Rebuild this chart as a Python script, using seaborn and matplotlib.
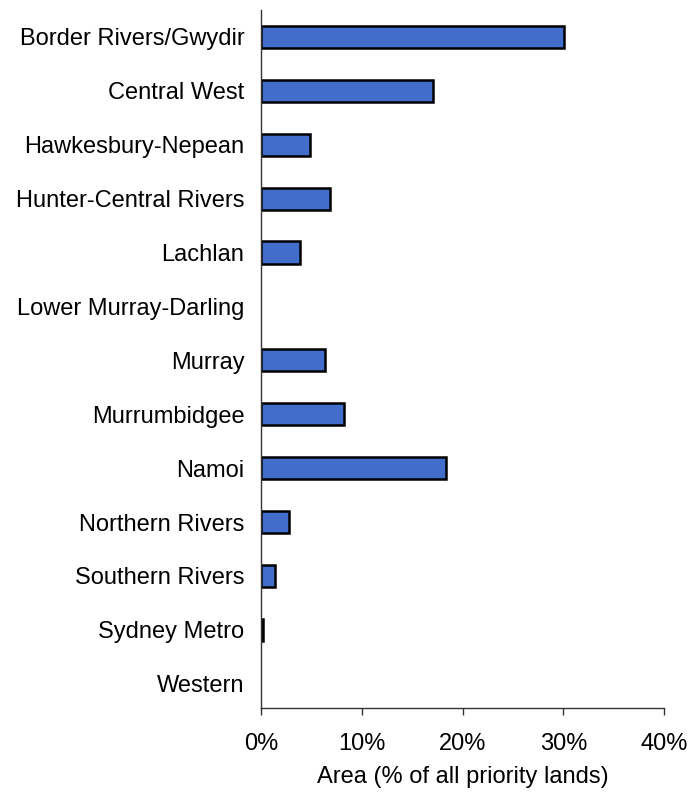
import matplotlib
matplotlib.use("Agg")
import matplotlib.pyplot as plt
import matplotlib.ticker as mticker
import seaborn as sns
import pandas as pd

# ── Данные ───────────────────────────────────────────────────────────────────
regions = [
    'Border Rivers/Gwydir', 'Central West', 'Hawkesbury-Nepean',
    'Hunter-Central Rivers', 'Lachlan', 'Lower Murray-Darling', 'Murray',
    'Murrumbidgee', 'Namoi', 'Northern Rivers', 'Southern Rivers',
    'Sydney Metro', 'Western',
]
area_pct = [30.1, 17.1, 4.85, 6.85, 3.9, 0.0, 6.3,
            8.25, 18.35, 2.8, 1.4, 0.2, 0.0]

df = pd.DataFrame({'region': regions, 'area': area_pct})

# ── Стиль ────────────────────────────────────────────────────────────────────
sns.set_style('white')
plt.rcParams['font.family'] = ['Liberation Sans', 'DejaVu Sans']
plt.rcParams['text.color'] = 'black'
plt.rcParams['xtick.color'] = 'black'
plt.rcParams['ytick.color'] = 'black'
plt.rcParams['axes.labelcolor'] = 'black'
BLUE = '#426DCB'
FS = 17

fig = plt.figure(figsize=(6.89, 7.92), dpi=100)
ax = fig.add_axes([0.379, 0.106, 0.585, 0.8815])

sns.barplot(data=df, x='area', y='region', orient='h', order=regions,
            color=BLUE, saturation=1, width=0.41,
            edgecolor='black', linewidth=1.8, ax=ax)

# нулевые столбцы без контура
for p in ax.patches:
    if p.get_width() == 0:
        p.set_linewidth(0)

ax.set_xlim(0, 40)
ax.set_ylim(12.45, -0.5)
ax.xaxis.set_major_locator(mticker.MultipleLocator(10))
ax.xaxis.set_major_formatter(mticker.FuncFormatter(lambda v, _: f'{v:.0f}%'))

for s in ['top', 'right']:
    ax.spines[s].set_visible(False)
for s in ['left', 'bottom']:
    ax.spines[s].set_color('#333333')
    ax.spines[s].set_linewidth(1.0)

ax.tick_params(axis='y', length=0, pad=12, labelsize=FS)
ax.tick_params(axis='x', length=5, width=1.0, color='#333333',
               direction='out', bottom=True, pad=13, labelsize=FS)

ax.set_ylabel('')
ax.set_xlabel('Area (% of all priority lands)', fontsize=FS, labelpad=8)

fig.savefig('out.png', dpi=100)
plt.close()
